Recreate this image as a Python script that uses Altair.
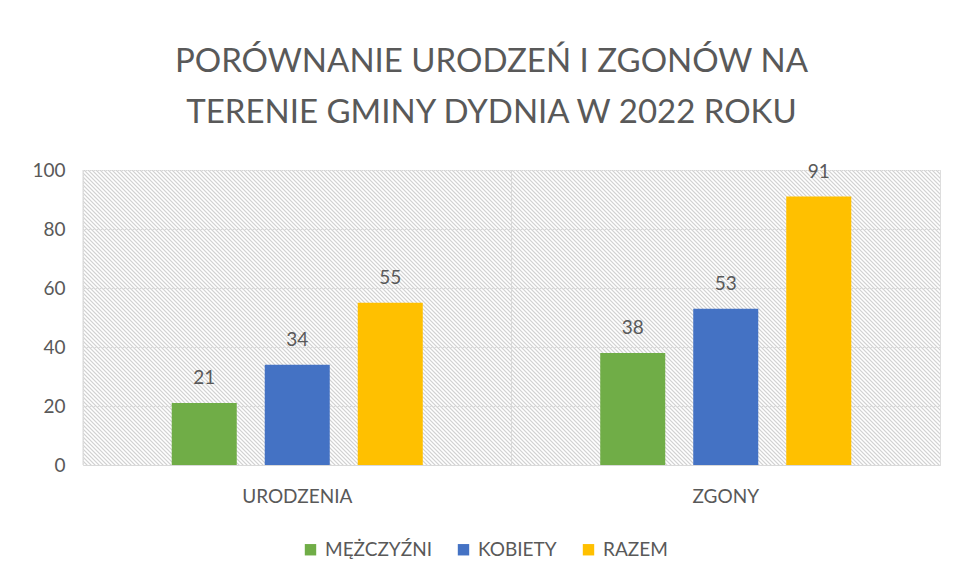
import altair as alt
import pandas as pd

categories = ["URODZENIA", "ZGONY"]
series = ["MĘŻCZYŹNI", "KOBIETY", "RAZEM"]
values = {
    "MĘŻCZYŹNI": [21, 38],
    "KOBIETY": [34, 53],
    "RAZEM": [55, 91],
}
colors = ["#70AD47", "#4472C4", "#FFC000"]
title_lines = ["PORÓWNANIE URODZEŃ I ZGONÓW NA", "TERENIE GMINY DYDNIA W 2022 ROKU"]

rows = []
for s in series:
    for c, v in zip(categories, values[s]):
        rows.append({"kategoria": c, "seria": s, "wartosc": v})
df = pd.DataFrame(rows)
cat_df = pd.DataFrame({"kategoria": categories})

FONT = "Lato"
GREY = "#595959"
W, H = 857, 295

# diagonal hatch pattern for the plot background (style only)
PERIOD = 4.0  # horizontal period of the hatch, px
n_stripes = int((W + H) / PERIOD)
m = (W + H) / (W * W + H * H)
stops = []
for i in range(n_stripes):
    stops += [
        alt.GradientStop(offset=i / n_stripes, color="#d2d2d2"),
        alt.GradientStop(offset=(i + 0.5) / n_stripes, color="rgba(255,255,255,0)"),
    ]
stops.append(alt.GradientStop(offset=1, color="#d2d2d2"))
hatch = alt.LinearGradient(gradient="linear", stops=stops,
                           x1=0, y1=1, x2=m * W, y2=1 - m * H)

x_scale = alt.Scale(domain=categories, paddingInner=0, paddingOuter=0)
xoff_scale = alt.Scale(domain=series, paddingInner=0.301, paddingOuter=0.954)
y_scale = alt.Scale(domain=[0, 100], nice=False)

x_axis = alt.Axis(title=None, labelAngle=0, ticks=False, domain=False,
                  grid=False, labelFontSize=19, labelColor=GREY,
                  labelFont=FONT, labelPadding=22, bandPosition=0.5)

base = alt.Chart(df)

background = alt.Chart(cat_df).mark_rect(fill=hatch, strokeWidth=0).encode(
    x=alt.value(0), x2=alt.value("width"), y=alt.value(0), y2=alt.value("height"),
)

bars = base.mark_bar().encode(
    x=alt.X("kategoria:N", scale=x_scale, sort=categories, axis=x_axis),
    xOffset=alt.XOffset("seria:N", scale=xoff_scale, sort=series),
    y=alt.Y("wartosc:Q", scale=y_scale,
            axis=alt.Axis(title=None, values=[0, 20, 40, 60, 80, 100], ticks=False,
                          domain=False, grid=True, gridColor="#d9d9d9",
                          labelFontSize=19, labelColor=GREY, labelFont=FONT,
                          labelPadding=18)),
    color=alt.Color("seria:N", sort=series,
                    scale=alt.Scale(domain=series, range=colors),
                    legend=alt.Legend(title=None, orient="none", direction="horizontal",
                                      legendX=218, legendY=370,
                                      symbolType="square", symbolSize=130,
                                      symbolStrokeWidth=0,
                                      labelFontSize=19, labelColor=GREY,
                                      labelFont=FONT, columnPadding=22,
                                      labelOffset=5)),
)

labels = base.mark_text(baseline="bottom", dy=-15, fontSize=19, font=FONT,
                        color=GREY).encode(
    x=alt.X("kategoria:N", scale=x_scale, sort=categories, axis=x_axis),
    xOffset=alt.XOffset("seria:N", scale=xoff_scale, sort=series),
    y=alt.Y("wartosc:Q", scale=y_scale),
    text=alt.Text("wartosc:Q"),
)

vgrid = alt.Chart(cat_df).mark_rule(color="#d9d9d9", strokeWidth=1).encode(
    x=alt.X("kategoria:N", scale=x_scale, sort=categories, bandPosition=0,
            axis=x_axis),
)

chart = alt.layer(background, vgrid, bars, labels).properties(
    width=W,
    height=H,
    padding={"left": 83, "top": 170, "right": 15, "bottom": 116},
    autosize=alt.AutoSizeParams(type="none"),
    title=alt.TitleParams(text=title_lines, fontSize=33, font=FONT, color=GREY,
                          fontWeight="normal", anchor="middle", offset=31,
                          lineHeight=51, dx=-20),
).configure_view(
    stroke="#d9d9d9", fill="white"
).configure(background="white")

chart.save("out.html", embed_options={"renderer": "svg", "actions": False})
